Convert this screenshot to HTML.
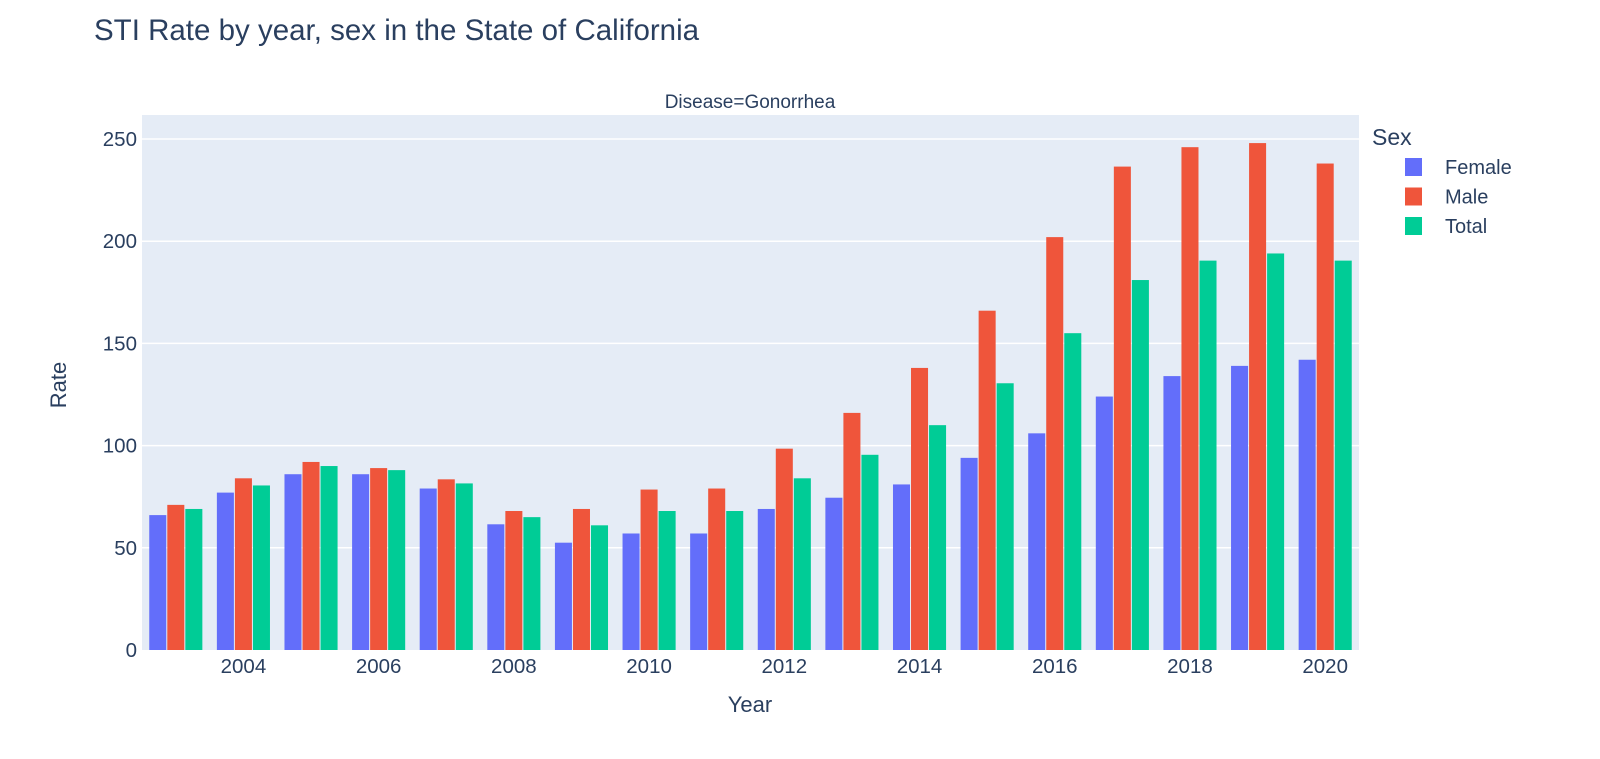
<!DOCTYPE html>
<html><head><meta charset="utf-8"><style>
body{margin:0;background:#fff;}
svg{display:block;font-family:"Liberation Sans",Arial,sans-serif;}
</style></head><body>
<svg id="chart" width="1600" height="759">
<text x="94" y="40" font-size="29.5" fill="#2a3f5f">STI Rate by year, sex in the State of California</text>
<text x="750" y="108" font-size="19" fill="#2a3f5f" text-anchor="middle">Disease=Gonorrhea</text>
<rect x="142" y="115" width="1217" height="535" fill="#e5ecf6"/>
<g id="grid"></g><g id="bars"></g><g id="axes"></g>
<text x="750" y="712" font-size="22" fill="#2a3f5f" text-anchor="middle">Year</text>
<text x="0" y="0" font-size="22" fill="#2a3f5f" text-anchor="middle" transform="translate(66,385) rotate(-90)">Rate</text>
<text x="1372" y="145" font-size="23" fill="#2a3f5f">Sex</text>
<g id="legend"></g>
</svg>
<script>
const years=[2003,2004,2005,2006,2007,2008,2009,2010,2011,2012,2013,2014,2015,2016,2017,2018,2019,2020];
const female=[66,77,86,86,79,61.5,52.5,57,57,69,74.5,81,94,106,124,134,139,142];
const male=[71,84,92,89,83.5,68,69,78.5,79,98.5,116,138,166,202,236.5,246,248,238];
const total=[69,80.5,90,88,81.5,65,61,68,68,84,95.5,110,130.5,155,181,190.5,194,190.5];
const seriesNames=["Female","Male","Total"];
const colors=["#636efa","#ef553b","#00cc96"];
const yTicks=[0,50,100,150,200,250];
const xTicks=[2004,2006,2008,2010,2012,2014,2016,2018,2020];
const NS="http://www.w3.org/2000/svg";
const X0=142,X1=1359,Y0=650,Y1=115;
const step=(X1-X0)/years.length;
const xc=y=>X0+(y-years[0]+0.5)*step;
const yv=v=>Y0-v*(511/250);
function mk(t,a,p){const e=document.createElementNS(NS,t);for(const k in a)e.setAttribute(k,a[k]);p.appendChild(e);return e;}
const grid=document.getElementById('grid'),axes=document.getElementById('axes'),bars=document.getElementById('bars'),leg=document.getElementById('legend');
yTicks.forEach(t=>{
 if(t>0){const l=mk('line',{x1:X0,x2:X1,y1:yv(t),y2:yv(t),stroke:'#fff','stroke-width':1.5},grid);
 
 }
 const tx=mk('text',{x:137,y:yv(t)+7,'font-size':20.5,fill:'#2a3f5f','text-anchor':'end'},axes);tx.textContent=t;
 
 
});
xTicks.forEach(t=>{
 const tx=mk('text',{x:xc(t),y:673,'font-size':20.5,fill:'#2a3f5f','text-anchor':'middle'},axes);tx.textContent=t;
 
 
});
const data=[female,male,total];
const bw=step*0.8/3;
data.forEach((arr,si)=>{arr.forEach((v,i)=>{
 const x=xc(years[i])-step*0.4+si*bw;
 const r=mk('rect',{x:x+0.5,y:yv(v),width:bw-1,height:Y0-yv(v),fill:colors[si]},bars);
 
 
});});
seriesNames.forEach((n,i)=>{
 const y=167+i*29.5;
 const r=mk('rect',{x:1405,y:y-9,width:17,height:18,fill:colors[i]},leg);
 
 
 const t=mk('text',{x:1445,y:y+7,'font-size':20,fill:'#2a3f5f'},leg);t.textContent=n;
 
 
});
</script>
</body></html>
